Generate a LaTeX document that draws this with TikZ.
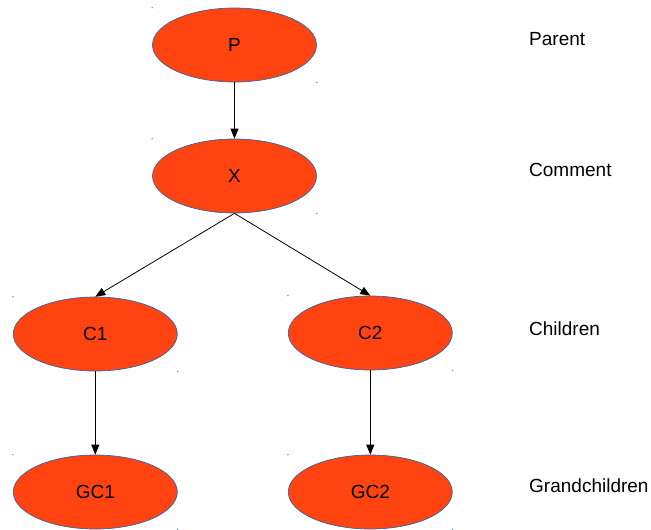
\documentclass[tikz,border=0pt]{standalone}
\usepackage{fontspec}
\setmainfont{Liberation Sans}
\usetikzlibrary{shapes.geometric,arrows.meta}
\definecolor{nodefill}{HTML}{FF4411}
\definecolor{nodeedge}{HTML}{3465A4}
\begin{document}
\begin{tikzpicture}[x=1pt,y=-1pt,
  blob/.style={ellipse,draw=nodeedge,line width=0.7pt,fill=nodefill,minimum width=164pt,minimum height=74pt,inner sep=0pt,font=\fontsize{19}{21}\selectfont},
  lvl/.style={anchor=base west,inner sep=0pt,font=\fontsize{19}{21}\selectfont},
  link/.style={draw=black,line width=0.8pt,-{Triangle[length=10pt,width=8pt]}}]
\useasboundingbox (0,0) rectangle (651,530);
\node[blob] (P) at (234.5,45) {P};
\node[blob] (X) at (234.5,176) {X};
\node[blob] (C1) at (95.3,334) {C1};
\node[blob] (C2) at (370.3,333) {C2};
\node[blob] (GC1) at (95.3,492) {GC1};
\node[blob] (GC2) at (370.3,492) {GC2};
\node[lvl] (lp) at (529,45.5) {Parent};
\node[lvl] (lc) at (529,176.5) {Comment};
\node[lvl] (lch) at (529,335) {Children};
\node[lvl] (lg) at (529,492) {Grandchildren};
\draw[link] (P.south) -- (X.north);
\draw[link] (X.south) -- (C1.north);
\draw[link] (X.south) -- (C2.north);
\draw[link] (C1.south) -- (GC1.north);
\draw[link] (C2.south) -- (GC2.north);
\foreach \n in {P,X,C1,C2,GC1,GC2}{
  \fill[nodeedge!70] (\n.north -| \n.west) circle (0.8pt);
  \fill[nodeedge!70] (\n.south -| \n.east) circle (0.8pt);
}
\end{tikzpicture}
\end{document}
